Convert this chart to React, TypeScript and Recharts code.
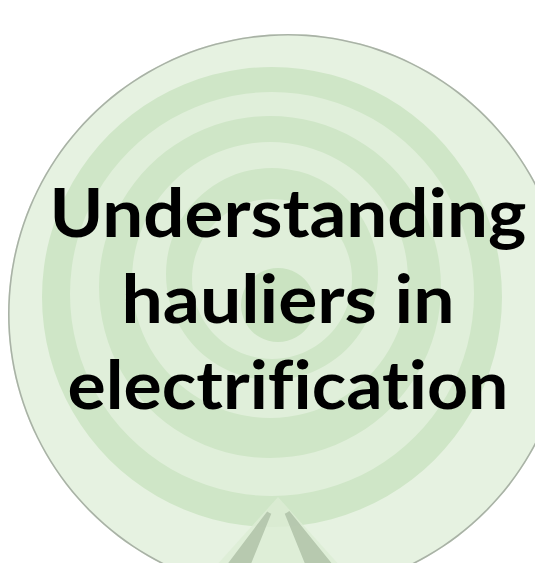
import React from "react";
import { PieChart, Pie, Cell } from "recharts";

// Title lines
const titleLines = ["Understanding", "hauliers in", "electrification"];

// Target rings (outer to inner): each ring drawn as a full disc
const ringNames = ["outer", "r1", "r2", "r3", "r4", "r5", "r6", "core"];
const ringValues = [1, 1, 1, 1, 1, 1, 1, 1];

// Stand of the target (light backdrop + two legs)
const standNames = ["backdrop", "leftLeg", "rightLeg"];
const standValues = [1, 1, 1];

// ---- layout / styles (not data) ----
const W = 535;
const H = 563;
const ringGeom = [
  { cx: 288, cy: 314, r: 280, fill: "#e6f2e1" },
  { cx: 272, cy: 297, r: 230, fill: "#cfe6c7" },
  { cx: 272, cy: 294, r: 202, fill: "#e0efda" },
  { cx: 270, cy: 287, r: 171, fill: "#cfe6c7" },
  { cx: 270, cy: 280, r: 138, fill: "#e0efda" },
  { cx: 272, cy: 274, r: 106, fill: "#cfe6c7" },
  { cx: 272, cy: 279, r: 80, fill: "#e0efda" },
  { cx: 278, cy: 305, r: 37, fill: "#cae3c1" },
];
const standGeom = [
  { start: 228, end: 312, inner: 0, outer: 110, fill: "#dcecd5", opacity: 0.8 },
  { start: 233, end: 248, inner: 18, outer: 110, fill: "#b4c6ad", opacity: 0.95 },
  { start: 292, end: 309, inner: 18, outer: 110, fill: "#b4c6ad", opacity: 0.95 },
];
const textGeom = [
  { y: 237, len: 477 },
  { y: 323, len: 333 },
  { y: 409, len: 441 },
];

export default function App() {
  const outer = ringGeom[0];
  return (
    <div style={{ position: "absolute", left: 0, top: 0, width: W, height: H, background: "#ffffff" }}>
      <PieChart width={W} height={H} margin={{ top: 0, right: 0, bottom: 0, left: 0 }}>
        {ringNames.map((name, i) => (
          <Pie
            key={name}
            data={[{ name, value: ringValues[i] }]}
            dataKey="value"
            cx={ringGeom[i].cx}
            cy={ringGeom[i].cy}
            innerRadius={0}
            outerRadius={ringGeom[i].r}
            startAngle={90}
            endAngle={450}
            isAnimationActive={false}
            stroke="none"
          >
            <Cell fill={ringGeom[i].fill} />
          </Pie>
        ))}
        <Pie
          key="border"
          data={[{ name: "border", value: ringValues[0] }]}
          dataKey="value"
          cx={outer.cx}
          cy={outer.cy}
          innerRadius={outer.r - 1.6}
          outerRadius={outer.r}
          startAngle={90}
          endAngle={450}
          isAnimationActive={false}
          stroke="none"
        >
          <Cell fill="#a9b2a6" />
        </Pie>
        {standNames.map((name, i) => (
          <Pie
            key={name}
            data={[{ name, value: standValues[i] }]}
            dataKey="value"
            cx={278}
            cy={497}
            innerRadius={standGeom[i].inner}
            outerRadius={standGeom[i].outer}
            startAngle={standGeom[i].start}
            endAngle={standGeom[i].end}
            isAnimationActive={false}
            stroke="none"
          >
            <Cell fill={standGeom[i].fill} fillOpacity={standGeom[i].opacity} />
          </Pie>
        ))}
      </PieChart>
      <svg
        width={W}
        height={H}
        style={{ position: "absolute", left: 0, top: 0, pointerEvents: "none" }}
      >
        {titleLines.map((t, i) => (
          <text
            key={t}
            x={288}
            y={textGeom[i].y}
            textAnchor="middle"
            textLength={textGeom[i].len}
            lengthAdjust="spacingAndGlyphs"
            fontFamily="Lato, 'Open Sans', sans-serif"
            fontWeight={700}
            fontSize={66}
            fill="#000000"
            style={{ fontVariantLigatures: "none", fontFeatureSettings: "'liga' 0, 'clig' 0" }}
          >
            {t}
          </text>
        ))}
      </svg>
    </div>
  );
}
